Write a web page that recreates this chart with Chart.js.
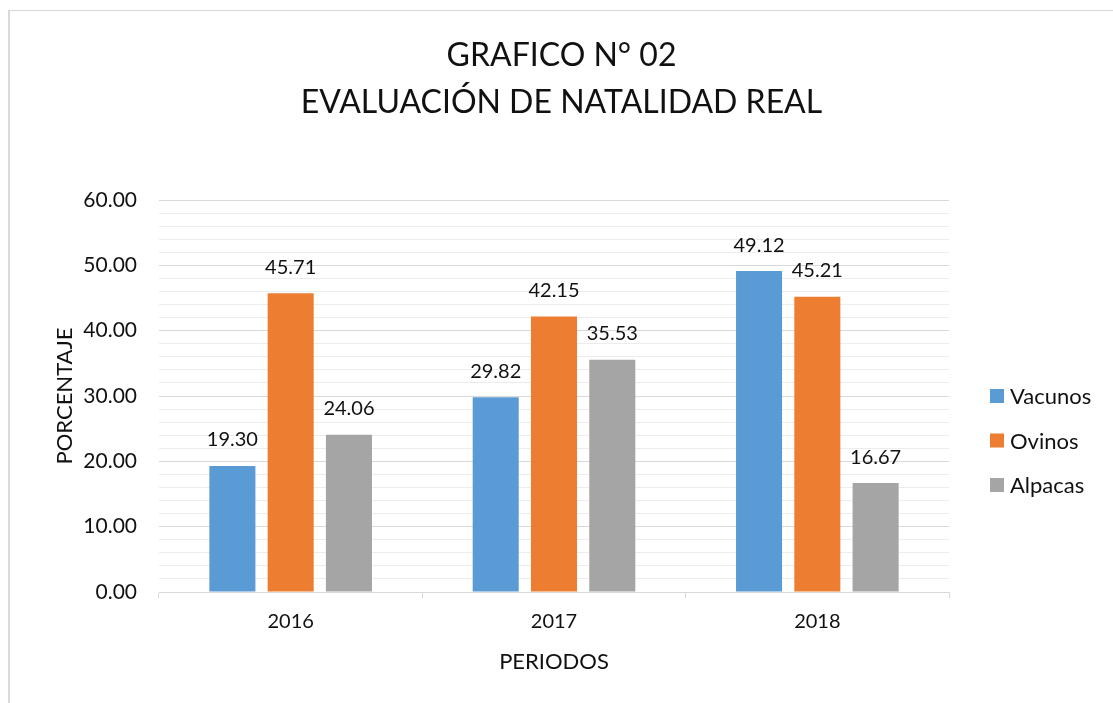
<!doctype html>
<html>
<head>
    <meta charset="UTF-8"/>
    <title>Natalidad</title>
    <script src="https://cdnjs.cloudflare.com/ajax/libs/Chart.js/4.4.0/chart.umd.min.js"></script>
</head>
<body style="margin: 0; background: #fff;">
<div id="box" style="position:absolute; left:8px; top:10px; border-left:2px solid #d9d9d9; border-top:1px solid #d9d9d9;">
    <canvas id="myChart" width="1103" height="692" style="display:block;"></canvas>
</div>

<script>
    // values
    var periodos = ['2016', '2017', '2018'];
    var vacunos  = [19.30, 29.82, 49.12];
    var ovinos   = [45.71, 42.15, 45.21];
    var alpacas  = [24.06, 35.53, 16.67];

    var font = 'Lato';
    var ink = '#111';

    // value labels above every bar
    var barLabels = {
        id: 'barLabels',
        afterDatasetsDraw: function (chart) {
            var ctx = chart.ctx;
            ctx.save();
            ctx.font = '20px ' + font;
            ctx.fillStyle = ink;
            ctx.textAlign = 'center';
            ctx.textBaseline = 'middle';
            chart.data.datasets.forEach(function (ds, i) {
                chart.getDatasetMeta(i).data.forEach(function (bar, j) {
                    ctx.fillText(ds.data[j].toFixed(2), bar.x, bar.y - 26);
                });
            });
            ctx.restore();
        }
    };

    // legend on the right, drawn from the datasets
    var sideLegend = {
        id: 'sideLegend',
        afterDraw: function (chart) {
            var ctx = chart.ctx, area = chart.chartArea;
            var mid = (area.top + area.bottom) / 2;
            ctx.save();
            ctx.font = '22px ' + font;
            ctx.textBaseline = 'middle';
            chart.data.datasets.forEach(function (ds, i) {
                var y = mid + i * 44.5;
                ctx.fillStyle = ds.backgroundColor;
                ctx.fillRect(area.right + 41, y - 7, 14, 14);
                ctx.fillStyle = ink;
                ctx.fillText(ds.label, area.right + 61, y + 1);
            });
            ctx.restore();
        }
    };

    var ctx = document.getElementById('myChart').getContext('2d');
    var myChart = new Chart(ctx, {
        type: 'bar',
        data: {
            labels  : periodos,
            datasets: [
                {label: 'Vacunos', data: vacunos, backgroundColor: '#5b9bd5'},
                {label: 'Ovinos',  data: ovinos,  backgroundColor: '#ed7d31'},
                {label: 'Alpacas', data: alpacas, backgroundColor: '#a5a5a5'}
            ]
        },
        options: {
            responsive: false,
            animation: false,
            events: [],
            categoryPercentage: 0.664,
            barPercentage: 0.79,
            plugins: {
                legend: {display: false},
                tooltip: {enabled: false},
                title: {
                    display: true,
                    text: ['GRAFICO N° 02', 'EVALUACIÓN DE NATALIDAD REAL'],
                    color: ink,
                    font: {family: font, size: 32, weight: 'normal', lineHeight: 46.7 / 32},
                    padding: {top: 21.6, bottom: 74}
                }
            },
            scales: {
                x: {
                    afterFit: function (s) { s.height = 111; },
                    grid: {drawOnChartArea: false, tickLength: 6, color: '#d9d9d9', offset: true},
                    border: {color: '#d9d9d9', width: 1},
                    ticks: {color: ink, font: {family: font, size: 20}, padding: 12},
                    title: {display: true, text: 'PERIODOS', color: ink,
                        font: {family: font, size: 22}, padding: {top: 0, bottom: 28}}
                },
                y: {
                    min: 0,
                    max: 60,
                    afterFit: function (s) { s.width = 149; },
                    border: {display: false},
                    grid: {
                        drawTicks: false,
                        color: function (c) { return c.tick.value % 10 === 0 ? '#d9d9d9' : '#ececec'; }
                    },
                    ticks: {
                        stepSize: 2,
                        autoSkip: false,
                        color: ink,
                        font: {family: font, size: 21},
                        padding: 22,
                        callback: function (v) { return v % 10 === 0 ? v.toFixed(2) : ''; }
                    },
                    title: {display: true, text: 'PORCENTAJE', color: ink,
                        font: {family: font, size: 22}, padding: {top: 42, bottom: 0}}
                },
                // empty axis on the right that keeps room for the legend
                side: {
                    position: 'right',
                    min: 0,
                    max: 60,
                    afterFit: function (s) { s.width = 164; },
                    border: {display: false},
                    grid: {display: false},
                    ticks: {display: false}
                }
            }
        },
        plugins: [barLabels, sideLegend]
    });
</script>
</body>
</html>
